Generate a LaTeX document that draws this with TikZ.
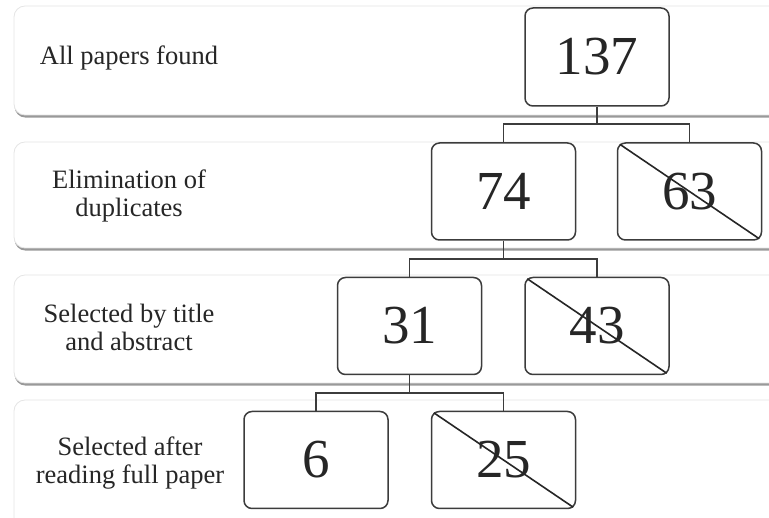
\documentclass[tikz,border=0pt]{standalone}
\usepackage{fontspec}
\setmainfont{Liberation Serif}
\usetikzlibrary{shadows,calc}
\definecolor{txt}{HTML}{262626}
\definecolor{boxline}{HTML}{3c3c3c}
\begin{document}
\begin{tikzpicture}[x=1pt,y=-1pt,
  band/.style={fill=white, draw=black!10, line width=0.8pt, rounded corners=11pt,
    drop shadow={shadow xshift=0.6pt, shadow yshift=-2.6pt, fill=black, opacity=0.4}},
  lbl/.style={align=center, text=txt, font=\fontsize{26.5}{28}\selectfont, inner sep=0pt},
  numbox/.style={draw=boxline, line width=1.5pt, rounded corners=8pt, fill=white,
    minimum width=144pt, minimum height=97pt, inner sep=0pt, text=txt,
    font=\fontsize{55}{60}\selectfont},
  conn/.style={draw=boxline, line width=1.5pt},
  cross/.style={draw=black!85, line width=1.6pt}]
\useasboundingbox (0,0) rectangle (769,518);
\clip (0,0) rectangle (769,518);
% bands
\path[band] (14,6) rectangle (810,115);
\path[band] (14,142) rectangle (810,248);
\path[band] (14,275) rectangle (810,383);
\path[band] (14,400) rectangle (810,530);
% labels
\node[lbl] (l1) at (129,58) {All papers found};
\node[lbl] (l2) at (129,196) {Elimination of\\duplicates};
\node[lbl] (l3) at (129,327) {Selected by title\\and abstract};
\node[lbl] (l4) at (130,463) {Selected after\\reading full paper};
% boxes
\node[numbox, minimum height=98pt] (n137) at (597,57) {137};
\node[numbox] (n74) at (503.5,191.5) {74};
\node[numbox] (n63) at (689.5,191.5) {63};
\node[numbox] (n31) at (409.5,326) {31};
\node[numbox] (n43) at (597,326) {43};
\node[numbox] (n6) at (316,460) {6};
\node[numbox] (n25) at (503.5,460) {25};
% crosses
\draw[cross] ($(n63.north west)+(3,2)$) -- ($(n63.south east)+(-3,-2)$);
\draw[cross] ($(n43.north west)+(3,2)$) -- ($(n43.south east)+(-3,-2)$);
\draw[cross] ($(n25.north west)+(3,2)$) -- ($(n25.south east)+(-3,-2)$);
% connectors
\coordinate (b1) at (597,124);
\coordinate (b2) at (503.5,259);
\coordinate (b3) at (409.5,393);
\draw[conn] (n137.south) -- (b1);
\draw[conn] (n74.north) |- (b1) -| (n63.north);
\draw[conn] (n74.south) -- (b2);
\draw[conn] (n31.north) |- (b2) -| (n43.north);
\draw[conn] (n31.south) -- (b3);
\draw[conn] (n6.north) |- (b3) -| (n25.north);
\end{tikzpicture}
\end{document}
